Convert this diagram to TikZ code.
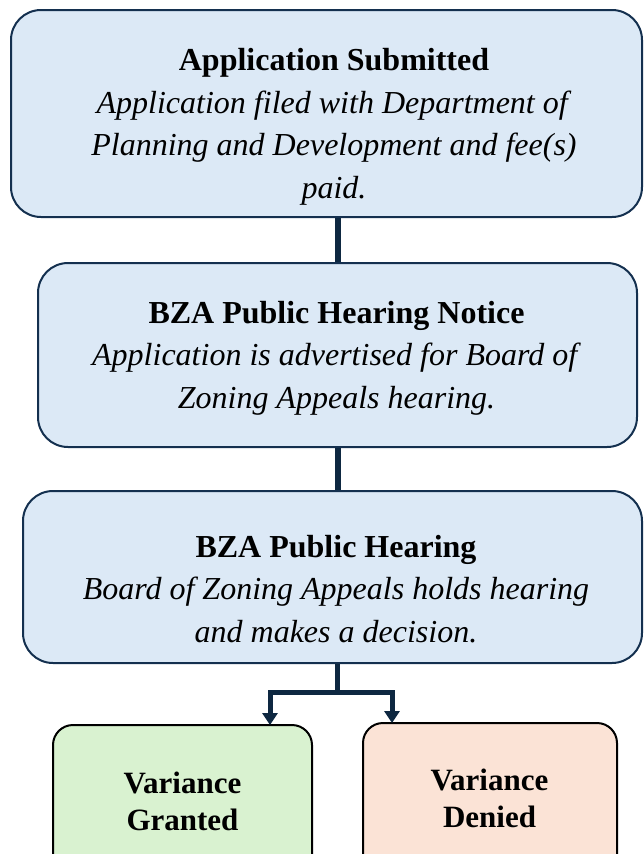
\documentclass[tikz,border=0pt]{standalone}
\usepackage{fontspec}
\setmainfont{Liberation Serif}
\usetikzlibrary{arrows.meta}

\definecolor{stepfill}{HTML}{DCE9F6}
\definecolor{stepline}{HTML}{14304F}
\definecolor{linkcol}{HTML}{0E2841}
\definecolor{grantfill}{HTML}{D9F2D0}
\definecolor{denyfill}{HTML}{FBE3D6}

\tikzset{
  stepbox/.style={draw=stepline, fill=stepfill, line width=2pt,
    rounded corners=30pt, inner sep=0pt},
  outbox/.style={draw=black, line width=2pt, rounded corners=20pt, inner sep=0pt},
  lbl/.style={anchor=base, inner sep=0pt,
    font=\fontsize{32}{42.5}\selectfont},
  outlbl/.style={anchor=base, inner sep=0pt,
    font=\fontsize{31}{37.5}\selectfont\bfseries},
  link/.style={draw=linkcol, line width=6pt},
  branch/.style={draw=linkcol, line width=5pt,
    -{Triangle[width=15pt,length=12pt]}}
}

\newcommand{\boxlines}[1]{\begin{tabular}[t]{@{}c@{}}#1\end{tabular}}

\begin{document}
\begin{tikzpicture}[x=1pt, y=-1pt]
  \useasboundingbox (0,0) rectangle (644,854);
  \clip (0,0) rectangle (644,854);

  % process steps
  \node[stepbox, minimum width=631pt, minimum height=207pt] (b1) at (326.5,113.5) {};
  \node[stepbox, minimum width=599pt, minimum height=184pt] (b2) at (337.5,355) {};
  \node[stepbox, minimum width=619pt, minimum height=172pt] (b3) at (332.5,577) {};

  % outcomes (run past the lower edge)
  \node[outbox, fill=grantfill, minimum width=259pt, minimum height=160pt] (g) at (182.5,805) {};
  \node[outbox, fill=denyfill, minimum width=254pt, minimum height=160pt] (d) at (490,803) {};

  % labels
  \node[lbl] (t1) at (334,70.5) {\boxlines{\textbf{Application Submitted}\\
    \textit{Application filed with Department of}\\
    \textit{Planning and Development and fee(s)}\\
    \textit{paid.}}};
  \node[lbl] (t2) at (336.5,323) {\boxlines{\textbf{BZA Public Hearing Notice}\\
    \textit{Application is advertised for Board of}\\
    \textit{Zoning Appeals hearing.}}};
  \node[lbl] (t3) at (336,557) {\boxlines{\textbf{BZA Public Hearing}\\
    \textit{Board of Zoning Appeals holds hearing}\\
    \textit{and makes a decision.}}};
  \node[outlbl] (tg) at (182.5,793) {\boxlines{Variance\\Granted}};
  \node[outlbl] (td) at (489.5,790) {\boxlines{Variance\\Denied}};

  % connectors
  \coordinate (spine) at (338,0);
  \coordinate (split) at (337.5,692);
  \coordinate (gin) at (270,725);
  \coordinate (din) at (392,723);
  \draw[link] (b1.south -| spine) -- (b2.north -| spine);
  \draw[link] (b2.south -| spine) -- (b3.north -| spine);
  \draw[link, line width=5pt] (b3.south -| split) -- ([yshift=2.5pt]split);
  \draw[branch] (split) -| (gin);
  \draw[branch] (split) -| (din);
\end{tikzpicture}
\end{document}
